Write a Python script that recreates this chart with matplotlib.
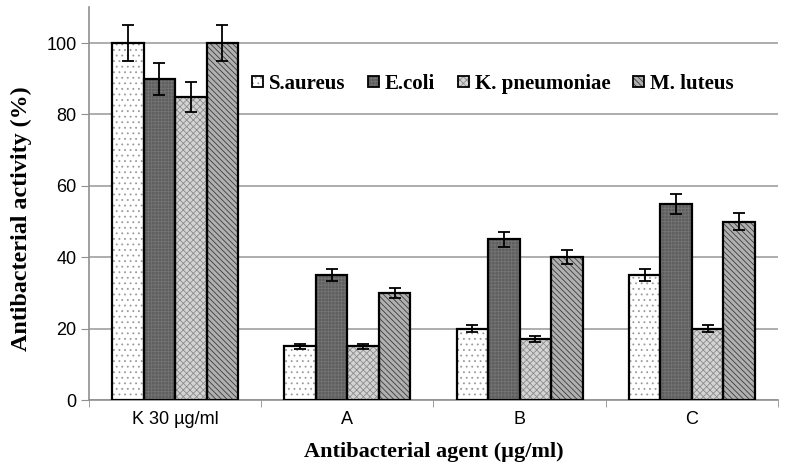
import matplotlib
matplotlib.use("Agg")
import matplotlib.pyplot as plt
import numpy as np
from matplotlib.patches import Patch

plt.rcParams["font.family"] = ["Liberation Sans", "DejaVu Sans"]
plt.rcParams["hatch.linewidth"] = 0.6

categories = ["K 30 µg/ml", "A", "B", "C"]
series = ["S.aureus", "E.coli", "K. pneumoniae", "M. luteus"]
s_aureus = [100, 15, 20, 35]
e_coli = [90, 35, 45, 55]
k_pneumoniae = [85, 15, 17, 20]
m_luteus = [100, 30, 40, 50]
s_aureus_err = [5, 0.8, 1.0, 1.7]
e_coli_err = [4.5, 1.6, 2.2, 2.8]
k_pneumoniae_err = [4.2, 0.8, 0.8, 1.0]
m_luteus_err = [5, 1.5, 2.0, 2.5]

values = [s_aureus, e_coli, k_pneumoniae, m_luteus]
errors = [s_aureus_err, e_coli_err, k_pneumoniae_err, m_luteus_err]
# face colour, hatch, hatch colour
styles = [
    ("white", "...", "#9a9a9a"),
    ("#5e5e5e", "+++++", "#747474"),
    ("#d4d4d4", "xxxxx", "#8c8c8c"),
    ("#b0b0b0", "\\\\\\\\\\\\", "#3c3c3c"),
]

fig = plt.figure(figsize=(7.87, 4.72), dpi=100)
ax = fig.add_axes([0.113, 0.1525, 0.8756, 0.832])

x = np.arange(len(categories))
w = 0.183
handles = []
for i, (vals, errs, (fc, hatch, hc)) in enumerate(zip(values, errors, styles)):
    pos = x + (i - 1.5) * w
    ax.bar(pos, vals, w, color=fc, hatch=hatch, edgecolor=hc, linewidth=0, zorder=2)
    ax.bar(pos, vals, w, fill=False, edgecolor="black", linewidth=1.6, zorder=3)
    ax.errorbar(pos, vals, yerr=errs, fmt="none", ecolor="black", elinewidth=1.3,
                capsize=4.5, capthick=1.3, zorder=4)
    handles.append((Patch(facecolor=fc, hatch=hatch, edgecolor=hc, linewidth=0),
                    Patch(fill=False, edgecolor="black", linewidth=1.3)))

ax.set_xlim(-0.5, 3.5)
ax.set_ylim(0, 110)
ax.set_yticks(range(0, 101, 20))
ax.set_xticks(x)
ax.set_xticklabels(categories)
ax.set_xticks(np.arange(-0.5, 4.0, 1.0), minor=True)
ax.tick_params(axis="x", which="major", length=0, labelsize=13, pad=8)
ax.tick_params(axis="x", which="minor", length=5, color="#909090", direction="out")
ax.tick_params(axis="y", length=6, color="#909090", labelsize=13, pad=3)

ax.yaxis.grid(True, color="#a0a0a0", linewidth=1.2, zorder=0)
ax.set_axisbelow(True)
for side in ("top", "right"):
    ax.spines[side].set_visible(False)
for side in ("left", "bottom"):
    ax.spines[side].set_color("#909090")
    ax.spines[side].set_linewidth(1.2)

ax.set_xlabel("Antibacterial agent (µg/ml)", family="Liberation Serif",
              weight="bold", size=16, labelpad=10)
ax.set_ylabel("Antibacterial activity (%)", family="Liberation Serif",
              weight="bold", size=17.3)
ax.yaxis.set_label_coords(-0.083, 0.463)

ax.legend(handles, series, ncol=4, frameon=False, loc="center left",
          bbox_to_anchor=(0.222, 0.805), borderpad=0, handlelength=0.5,
          handleheight=0.5, handletextpad=0.3, columnspacing=1.1,
          prop={"family": "Liberation Serif", "weight": "bold", "size": 15})

fig.savefig("out.png", dpi=100)
